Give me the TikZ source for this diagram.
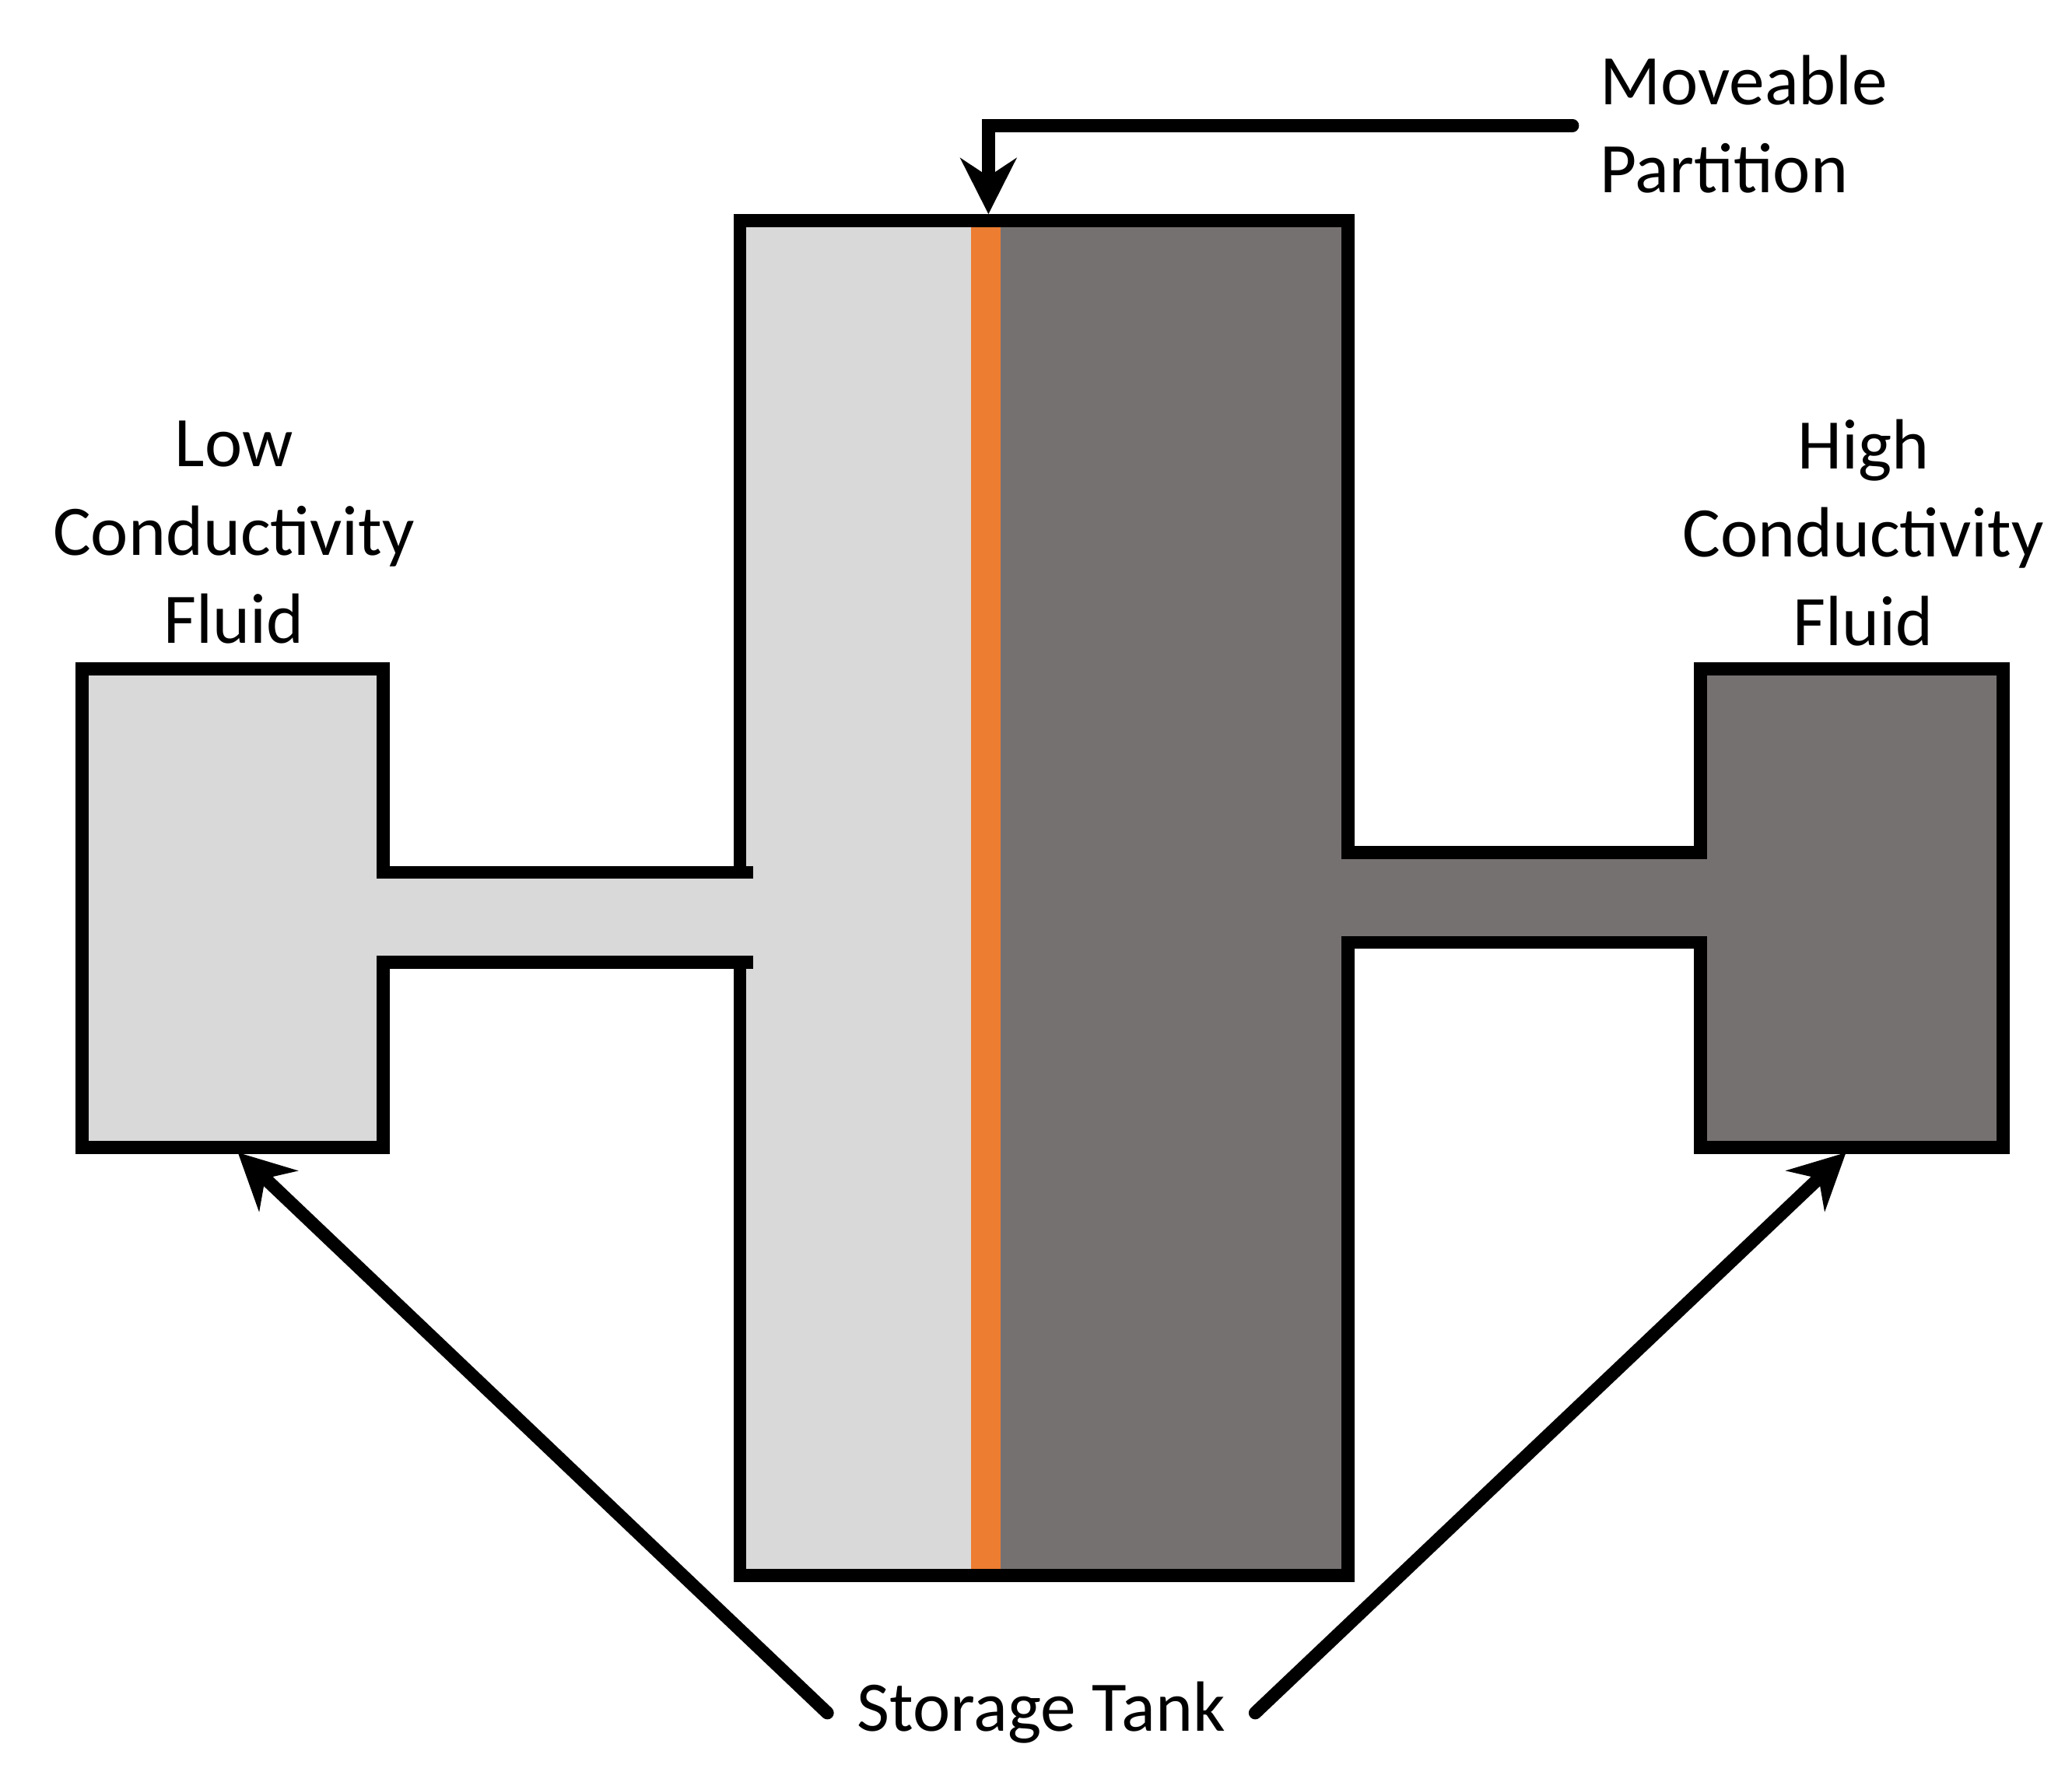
\documentclass[tikz,border=0pt]{standalone}
\usepackage{fontspec}
\setmainfont{Carlito}
\usetikzlibrary{arrows.meta}
\definecolor{lightf}{HTML}{D9D9D9}
\definecolor{darkf}{HTML}{767171}
\definecolor{orng}{HTML}{ED7D31}
\begin{document}
\begin{tikzpicture}[x=0.01cm,y=-0.01cm,
  wall/.style={line width=2.8pt,line join=miter},
  lbl/.style={font=\fontsize{15.3}{19}\selectfont,align=center,inner sep=0pt},
  arr/.style={line width=2.8pt,-{Stealth[length=12pt,width=12pt]}}]
\useasboundingbox (0,0) rectangle (1568,1351);
% fills
\fill[lightf] (62,506) rectangle (290,868);
\fill[lightf] (285,660) rectangle (570,728);
\fill[lightf] (560,167) rectangle (746,1192);
\fill[darkf] (746,167) rectangle (1020,1192);
\fill[darkf] (1015,645) rectangle (1292,713);
\fill[darkf] (1287,506) rectangle (1516,868);
\fill[orng] (735,172) rectangle (757,1187);
% outlines
\draw[wall] (290,660) -- (290,506) -- (62,506) -- (62,868) -- (290,868) -- (290,728);
\draw[wall] (285,660) -- (570,660);
\draw[wall] (285,728) -- (570,728);
\draw[wall] (560,660) -- (560,167) -- (1020,167) -- (1020,645);
\draw[wall] (560,728) -- (560,1192) -- (1020,1192) -- (1020,713);
\draw[wall] (1015,645) -- (1292,645);
\draw[wall] (1015,713) -- (1292,713);
\draw[wall] (1287,645) -- (1287,506) -- (1516,506) -- (1516,868) -- (1287,868) -- (1287,713);
% labels
\node[lbl,anchor=west,align=left] (mp) at (1210,94) {Moveable\\Partition};
\node[lbl] (low) at (177,403) {Low\\Conductivity\\Fluid};
\node[lbl] (high) at (1410,403) {High\\Conductivity\\Fluid};
\node[lbl] (st) at (788,1296) {Storage Tank};
\coordinate (pt) at (748,162);
\coordinate (lt) at (180,872);
\coordinate (rt) at (1397,872);
\draw[arr,line cap=round] (1190,95) -- (748,95) -- (pt);
\draw[arr,line cap=round] ([xshift=-0.22cm]st.west) -- (lt);
\draw[arr,line cap=round] ([xshift=0.22cm]st.east) -- (rt);
\end{tikzpicture}
\end{document}
